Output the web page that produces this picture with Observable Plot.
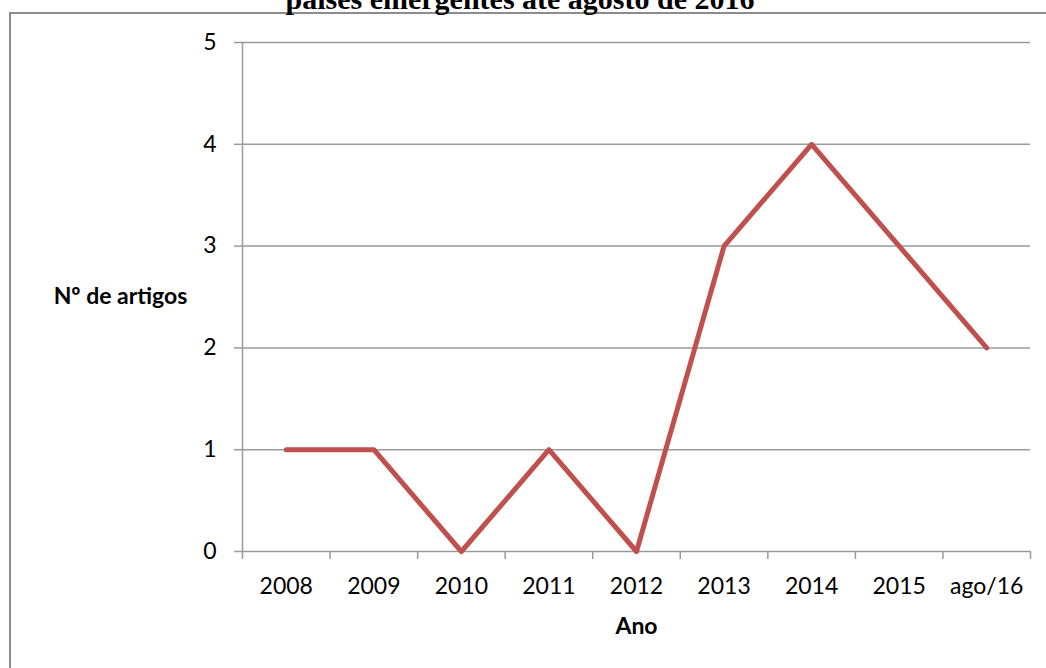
<!DOCTYPE html>
<html>
<head>
<meta charset="utf-8">
<script src="https://cdn.jsdelivr.net/npm/d3@7"></script>
<script src="https://cdn.jsdelivr.net/npm/@observablehq/plot@0.6"></script>
<style>
  body { margin: 0; background: #fff; }
  #wrap { position: relative; width: 1046px; height: 668px; overflow: hidden; background: #fff; }
  #frame { position: absolute; left: 9px; top: 12px; width: 1100px; height: 700px;
           border-left: 2px solid #8c8c8c; border-top: 2px solid #8c8c8c; box-sizing: border-box; }
  #title { position: absolute; left: 0; width: 1040px; top: -16px; text-align: center;
           font-family: "Liberation Serif", "Times New Roman", serif; font-weight: bold;
           font-size: 30px; line-height: 30px; color: #000; white-space: nowrap; }
  #chart { position: absolute; left: 0; top: 0; }
</style>
</head>
<body>
<div id="wrap">
  <div id="frame"></div>
  <div id="title">países emergentes até agosto de 2016</div>
  <div id="chart"></div>
</div>
<script>
const categories = ["2008", "2009", "2010", "2011", "2012", "2013", "2014", "2015", "ago/16"];
const artigos = [1, 1, 0, 1, 0, 3, 4, 3, 2];
const yTicks = [0, 1, 2, 3, 4, 5];
const yLabel = "Nº de artigos";
const xLabel = "Ano";

const data = categories.map((c, i) => ({pos: i + 0.5, value: artigos[i], cat: c}));
const boundaries = d3.range(categories.length + 1);
const centers = categories.map((c, i) => i + 0.5);
const gray = "#9a9a9a";

const chart = Plot.plot({
  width: 1046,
  height: 668,
  marginLeft: 242,
  marginRight: 16,
  marginTop: 42,
  marginBottom: 117,
  style: {fontFamily: "Lato, 'Open Sans', sans-serif", fontSize: "23px", color: "#000", background: "transparent"},
  x: {domain: [0, categories.length]},
  y: {domain: [0, 5]},
  marks: [
    Plot.gridY(yTicks.slice(1), {stroke: gray, strokeOpacity: 1, strokeWidth: 1.5}),
    Plot.ruleY([0], {stroke: gray, strokeWidth: 1.5}),
    Plot.ruleX([0], {y1: 0, y2: 5, stroke: gray, strokeWidth: 1.5}),
    Plot.axisY(yTicks, {tickSize: 8, tickPadding: 18, stroke: gray, strokeWidth: 1.5, label: null, fontSize: 23, tickFormat: d => String(d)}),
    Plot.axisX(boundaries, {tickSize: 8, tickFormat: () => "", stroke: gray, strokeWidth: 1.5, label: null}),
    Plot.axisX(centers, {tickSize: 0, tickPadding: 26, tickFormat: d => categories[Math.floor(d)], label: null, fontSize: 23}),
    Plot.line(data, {x: "pos", y: "value", stroke: "#C0504D", strokeWidth: 5}),
    Plot.text([yLabel], {frameAnchor: "left", dx: -122, textAnchor: "middle", fontWeight: "bold", fontSize: 23}),
    Plot.text([xLabel], {frameAnchor: "bottom", dy: 75, textAnchor: "middle", lineAnchor: "middle", fontWeight: "bold", fontSize: 23})
  ]
});
document.getElementById("chart").appendChild(chart);
</script>
</body>
</html>
